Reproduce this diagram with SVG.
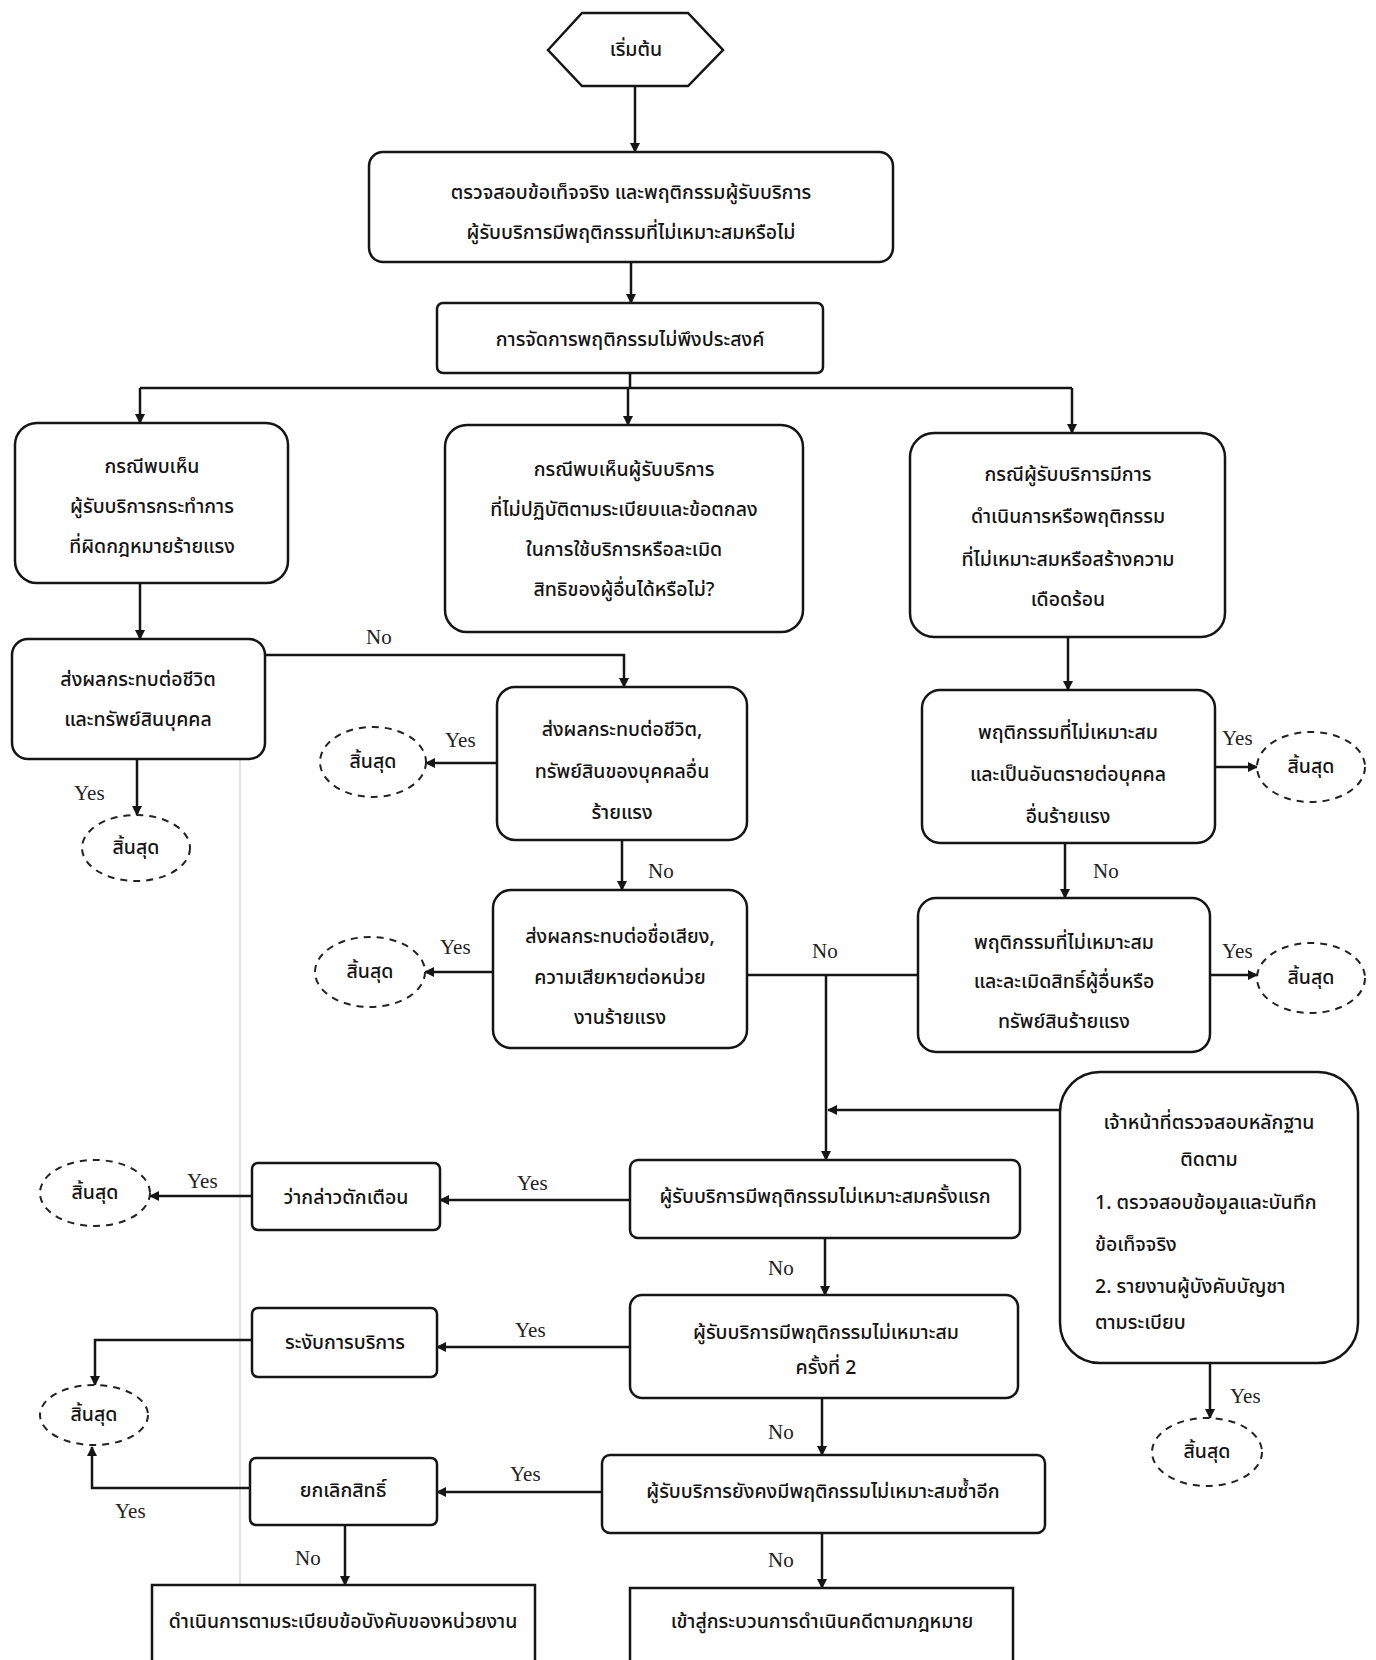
<svg xmlns="http://www.w3.org/2000/svg" width="1376" height="1660" viewBox="0 0 1376 1660">
<style>
.n{fill:#fff;stroke:#151515;stroke-width:2.5}
.e{fill:#fff;stroke:#222;stroke-width:2;stroke-dasharray:7 6}
.t{font-family:"Noto Sans Thai","Noto Sans","DejaVu Sans",sans-serif;font-size:19.5px;font-weight:500;fill:#141414;text-anchor:middle;dominant-baseline:central}
.s{text-anchor:start}
.l{font-family:"Liberation Serif",serif;font-size:21px;fill:#222}
.c{fill:none;stroke:#151515;stroke-width:2.5}
.f{fill:none;stroke:#e2e2e2;stroke-width:2}
</style>
<defs>
<marker id="a" viewBox="0 0 10 10" refX="9" refY="5" markerWidth="4" markerHeight="4" orient="auto"><path d="M0,0 L10,5 L0,10 z" fill="#151515"/></marker>
</defs>
<rect width="1376" height="1660" fill="#fff"/>
<line class="f" x1="240" y1="660" x2="240" y2="1660"/>
<g id="connectors">
<path class="c" marker-end="url(#a)" d="M635,86 V152"/>
<path class="c" marker-end="url(#a)" d="M631,262 V303"/>
<path class="c" d="M630,373 V388 M140,388 H1072"/>
<path class="c" marker-end="url(#a)" d="M140,388 V423"/>
<path class="c" marker-end="url(#a)" d="M628,388 V425"/>
<path class="c" marker-end="url(#a)" d="M1072,388 V433"/>
<path class="c" marker-end="url(#a)" d="M140,583 V639"/>
<path class="c" marker-end="url(#a)" d="M137,759 V815"/>
<path class="c" marker-end="url(#a)" d="M265,655 H624 V687"/>
<path class="c" marker-end="url(#a)" d="M497,763 H426"/>
<path class="c" marker-end="url(#a)" d="M622,840 V890"/>
<path class="c" marker-end="url(#a)" d="M493,972 H425"/>
<path class="c" d="M747,975 H918"/>
<path class="c" marker-end="url(#a)" d="M826,975 V1160"/>
<path class="c" marker-end="url(#a)" d="M1068,637 V690"/>
<path class="c" marker-end="url(#a)" d="M1215,767 H1257"/>
<path class="c" marker-end="url(#a)" d="M1065,843 V898"/>
<path class="c" marker-end="url(#a)" d="M1210,975 H1257"/>
<path class="c" marker-end="url(#a)" d="M1060,1110 H828"/>
<path class="c" marker-end="url(#a)" d="M1210,1363 V1418"/>
<path class="c" marker-end="url(#a)" d="M630,1200 H440"/>
<path class="c" marker-end="url(#a)" d="M252,1196 H150"/>
<path class="c" marker-end="url(#a)" d="M825,1238 V1295"/>
<path class="c" marker-end="url(#a)" d="M630,1347 H437"/>
<path class="c" marker-end="url(#a)" d="M252,1340 H95 V1385"/>
<path class="c" marker-end="url(#a)" d="M822,1398 V1455"/>
<path class="c" marker-end="url(#a)" d="M602,1492 H437"/>
<path class="c" marker-end="url(#a)" d="M250,1488 H92 V1447"/>
<path class="c" marker-end="url(#a)" d="M345,1525 V1585"/>
<path class="c" marker-end="url(#a)" d="M822,1533 V1588"/>
<text class="l" x="74" y="800">Yes</text>
<text class="l" x="366" y="644">No</text>
<text class="l" x="445" y="747">Yes</text>
<text class="l" x="648" y="878">No</text>
<text class="l" x="440" y="954">Yes</text>
<text class="l" x="812" y="958">No</text>
<text class="l" x="1222" y="745">Yes</text>
<text class="l" x="1093" y="878">No</text>
<text class="l" x="1222" y="958">Yes</text>
<text class="l" x="1230" y="1403">Yes</text>
<text class="l" x="517" y="1190">Yes</text>
<text class="l" x="187" y="1188">Yes</text>
<text class="l" x="768" y="1275">No</text>
<text class="l" x="515" y="1337">Yes</text>
<text class="l" x="768" y="1439">No</text>
<text class="l" x="510" y="1481">Yes</text>
<text class="l" x="115" y="1518">Yes</text>
<text class="l" x="295" y="1565">No</text>
<text class="l" x="768" y="1567">No</text>
</g>
<g id="start"><polygon class="n" points="548,50 582,13 688,13 723,50 688,86 582,86"/><text class="t" x="636" y="50">เริ่มต้น</text></g>
<g id="check"><rect class="n" x="369" y="152" width="524" height="110" rx="14"/><text class="t" x="631" y="193">ตรวจสอบข้อเท็จจริง และพฤติกรรมผู้รับบริการ</text><text class="t" x="631" y="233">ผู้รับบริการมีพฤติกรรมที่ไม่เหมาะสมหรือไม่</text></g>
<g id="manage"><rect class="n" x="437" y="303" width="386" height="70" rx="6"/><text class="t" x="630" y="340">การจัดการพฤติกรรมไม่พึงประสงค์</text></g>
<g id="caseA"><rect class="n" x="15" y="423" width="273" height="160" rx="22"/><text class="t" x="152" y="467">กรณีพบเห็น</text><text class="t" x="152" y="507">ผู้รับบริการกระทำการ</text><text class="t" x="152" y="547">ที่ผิดกฎหมายร้ายแรง</text></g>
<g id="decA"><rect class="n" x="12" y="639" width="253" height="120" rx="16"/><text class="t" x="138" y="680">ส่งผลกระทบต่อชีวิต</text><text class="t" x="138" y="720">และทรัพย์สินบุคคล</text></g>
<g id="endA"><ellipse class="e" cx="136" cy="848" rx="54" ry="33"/><text class="t" x="136" y="848">สิ้นสุด</text></g>
<g id="caseB"><rect class="n" x="445" y="425" width="358" height="207" rx="22"/><text class="t" x="624" y="470">กรณีพบเห็นผู้รับบริการ</text><text class="t" x="624" y="510">ที่ไม่ปฏิบัติตามระเบียบและข้อตกลง</text><text class="t" x="624" y="550">ในการใช้บริการหรือละเมิด</text><text class="t" x="624" y="590">สิทธิของผู้อื่นได้หรือไม่?</text></g>
<g id="decB1"><rect class="n" x="497" y="687" width="250" height="153" rx="18"/><text class="t" x="622" y="730">ส่งผลกระทบต่อชีวิต,</text><text class="t" x="622" y="772">ทรัพย์สินของบุคคลอื่น</text><text class="t" x="622" y="813">ร้ายแรง</text></g>
<g id="endB1"><ellipse class="e" cx="373" cy="762" rx="53" ry="35"/><text class="t" x="373" y="762">สิ้นสุด</text></g>
<g id="decB2"><rect class="n" x="493" y="890" width="254" height="158" rx="18"/><text class="t" x="620" y="937">ส่งผลกระทบต่อชื่อเสียง,</text><text class="t" x="620" y="978">ความเสียหายต่อหน่วย</text><text class="t" x="620" y="1018">งานร้ายแรง</text></g>
<g id="endB2"><ellipse class="e" cx="370" cy="972" rx="55" ry="35"/><text class="t" x="370" y="972">สิ้นสุด</text></g>
<g id="caseC"><rect class="n" x="910" y="433" width="315" height="204" rx="24"/><text class="t" x="1068" y="475">กรณีผู้รับบริการมีการ</text><text class="t" x="1068" y="517">ดำเนินการหรือพฤติกรรม</text><text class="t" x="1068" y="560">ที่ไม่เหมาะสมหรือสร้างความ</text><text class="t" x="1068" y="600">เดือดร้อน</text></g>
<g id="decC1"><rect class="n" x="922" y="690" width="293" height="153" rx="18"/><text class="t" x="1068" y="733">พฤติกรรมที่ไม่เหมาะสม</text><text class="t" x="1068" y="775">และเป็นอันตรายต่อบุคคล</text><text class="t" x="1068" y="817">อื่นร้ายแรง</text></g>
<g id="endC1"><ellipse class="e" cx="1311" cy="767" rx="54" ry="35"/><text class="t" x="1311" y="767">สิ้นสุด</text></g>
<g id="decC2"><rect class="n" x="918" y="898" width="292" height="154" rx="18"/><text class="t" x="1064" y="943">พฤติกรรมที่ไม่เหมาะสม</text><text class="t" x="1064" y="982">และละเมิดสิทธิ์ผู้อื่นหรือ</text><text class="t" x="1064" y="1022">ทรัพย์สินร้ายแรง</text></g>
<g id="endC2"><ellipse class="e" cx="1311" cy="978" rx="54" ry="35"/><text class="t" x="1311" y="978">สิ้นสุด</text></g>
<g id="staff"><rect class="n" x="1060" y="1072" width="298" height="291" rx="40"/><text class="t" x="1209" y="1123">เจ้าหน้าที่ตรวจสอบหลักฐาน</text><text class="t" x="1209" y="1160">ติดตาม</text><text class="t s" x="1095" y="1203">1. ตรวจสอบข้อมูลและบันทึก</text><text class="t s" x="1095" y="1245">ข้อเท็จจริง</text><text class="t s" x="1095" y="1287">2. รายงานผู้บังคับบัญชา</text><text class="t s" x="1095" y="1323">ตามระเบียบ</text></g>
<g id="endStaff"><ellipse class="e" cx="1207" cy="1452" rx="55" ry="34"/><text class="t" x="1207" y="1452">สิ้นสุด</text></g>
<g id="first"><rect class="n" x="630" y="1160" width="390" height="78" rx="8"/><text class="t" x="825" y="1197">ผู้รับบริการมีพฤติกรรมไม่เหมาะสมครั้งแรก</text></g>
<g id="warn"><rect class="n" x="252" y="1163" width="188" height="67" rx="6"/><text class="t" x="346" y="1198">ว่ากล่าวตักเตือน</text></g>
<g id="endWarn"><ellipse class="e" cx="95" cy="1193" rx="55" ry="33"/><text class="t" x="95" y="1193">สิ้นสุด</text></g>
<g id="second"><rect class="n" x="630" y="1295" width="388" height="103" rx="12"/><text class="t" x="826" y="1333">ผู้รับบริการมีพฤติกรรมไม่เหมาะสม</text><text class="t" x="826" y="1368">ครั้งที่ 2</text></g>
<g id="suspend"><rect class="n" x="252" y="1308" width="185" height="69" rx="6"/><text class="t" x="345" y="1343">ระงับการบริการ</text></g>
<g id="endSuspend"><ellipse class="e" cx="94" cy="1415" rx="54" ry="30"/><text class="t" x="94" y="1415">สิ้นสุด</text></g>
<g id="third"><rect class="n" x="602" y="1455" width="443" height="78" rx="8"/><text class="t" x="823" y="1492">ผู้รับบริการยังคงมีพฤติกรรมไม่เหมาะสมซ้ำอีก</text></g>
<g id="cancel"><rect class="n" x="250" y="1458" width="187" height="67" rx="6"/><text class="t" x="343" y="1491">ยกเลิกสิทธิ์</text></g>
<g id="rules"><rect class="n" x="152" y="1585" width="383" height="95"/><text class="t" x="343" y="1622">ดำเนินการตามระเบียบข้อบังคับของหน่วยงาน</text></g>
<g id="legal"><rect class="n" x="630" y="1588" width="383" height="92"/><text class="t" x="822" y="1622">เข้าสู่กระบวนการดำเนินคดีตามกฎหมาย</text></g>
</svg>
